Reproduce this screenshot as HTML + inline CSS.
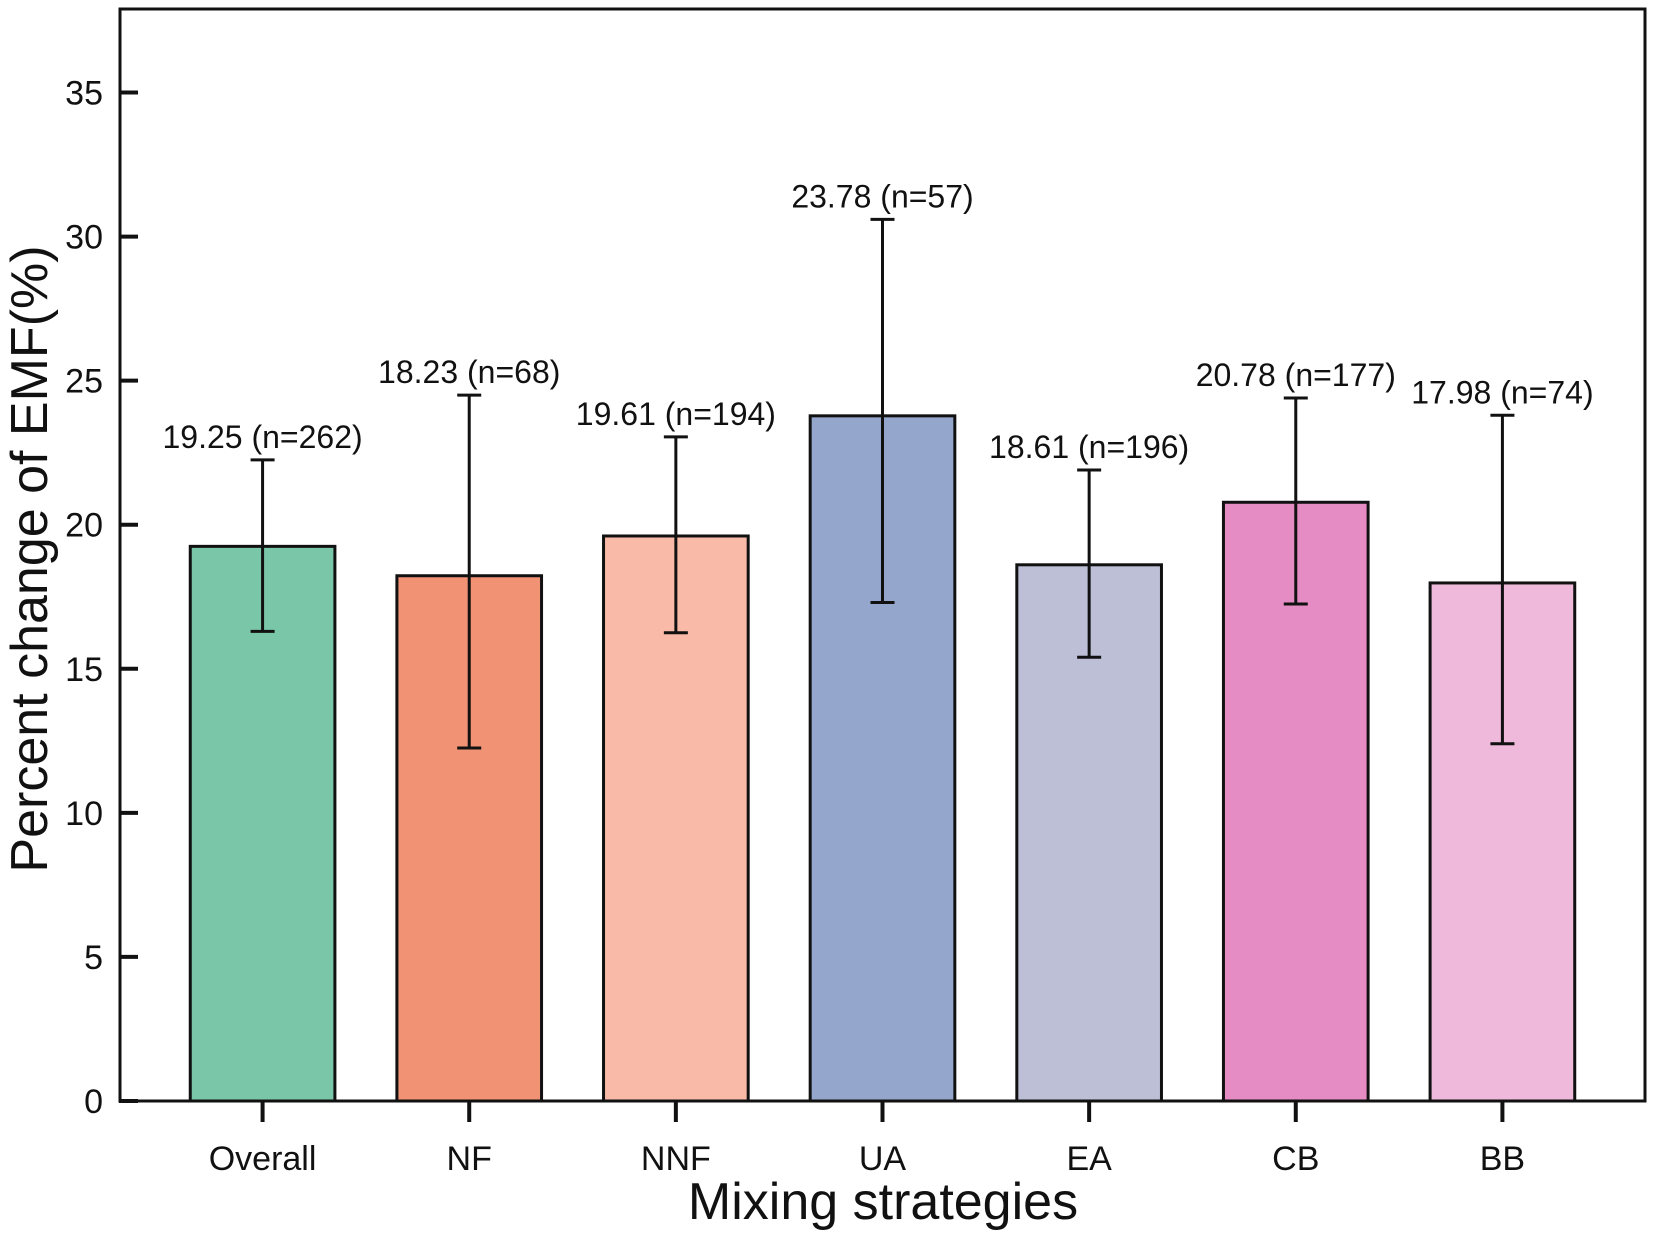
<!DOCTYPE html>
<html><head><meta charset="utf-8"><style>
body{margin:0;background:#fff}
svg text{font-family:"Liberation Sans",Arial,sans-serif;fill:#111}
</style></head><body>
<svg id="chart" width="1655" height="1237" viewBox="0 0 1655 1237" xmlns="http://www.w3.org/2000/svg">
<rect x="120" y="9" width="1525" height="1092" fill="#fff" stroke="#111" stroke-width="3"/>
<g id="bars"></g><g id="ticks"></g>
<text x="0" y="0" transform="translate(47,559) rotate(-90)" text-anchor="middle" font-size="52">Percent change of EMF(%)</text>
<text x="883" y="1219" text-anchor="middle" font-size="52">Mixing strategies</text>
</svg>
<script>
const categories=["Overall","NF","NNF","UA","EA","CB","BB"];
const values=[19.25,18.23,19.61,23.78,18.61,20.78,17.98];
const errLow=[16.3,12.25,16.25,17.3,15.4,17.25,12.4];
const errHigh=[22.25,24.5,23.05,30.6,21.9,24.4,23.8];
const counts=[262,68,194,57,196,177,74];
const colors=["#7ac6a8","#f29275","#f9bba8","#95a6cd","#bcbfd6","#e58cc4","#eeb9da"];
const yTicks=[0,5,10,15,20,25,30,35];
const L=120,R=1645,T=9,B=1101,yMax=37.9,xMin=-0.69,xMax=6.69;
const NS="http://www.w3.org/2000/svg";
const y=v=>B-(B-T)*v/yMax;
const x=i=>L+(R-L)*(i-xMin)/(xMax-xMin);
const bw=0.7*(R-L)/(xMax-xMin);
function mk(tag,attrs,parent){const e=document.createElementNS(NS,tag);for(const k in attrs)e.setAttribute(k,attrs[k]);parent.appendChild(e);return e;}
const gb=document.getElementById('bars'),gt=document.getElementById('ticks');
categories.forEach((c,i)=>{
  const cx=x(i);
  const r=mk('rect',{x:cx-bw/2,y:y(values[i]),width:bw,height:B-y(values[i]),fill:colors[i],stroke:'#111','stroke-width':3},gb);
  
  
  const e=mk('path',{d:`M${cx},${y(errLow[i])}V${y(errHigh[i])}M${cx-12},${y(errLow[i])}H${cx+12}M${cx-12},${y(errHigh[i])}H${cx+12}`,stroke:'#111','stroke-width':3,fill:'none'},gb);
  
  
  const t=mk('text',{x:cx,y:y(errHigh[i])-12,'text-anchor':'middle','font-size':32},gb);
  t.textContent=values[i].toFixed(2)+' (n='+counts[i]+')';
  
  
  const tk=mk('line',{x1:cx,x2:cx,y1:B,y2:B+21,stroke:'#111','stroke-width':4},gt);
  
  
  const tl=mk('text',{x:cx,y:1170,'text-anchor':'middle','font-size':34},gt);
  tl.textContent=c;
  
  
});
yTicks.forEach(v=>{
  const tk=mk('line',{x1:L-1,x2:L+18,y1:y(v),y2:y(v),stroke:'#111','stroke-width':4},gt);
  
  
  const tl=mk('text',{x:103,y:y(v)+12,'text-anchor':'end','font-size':34},gt);
  tl.textContent=v;
  
  
});
</script>
</body></html>
